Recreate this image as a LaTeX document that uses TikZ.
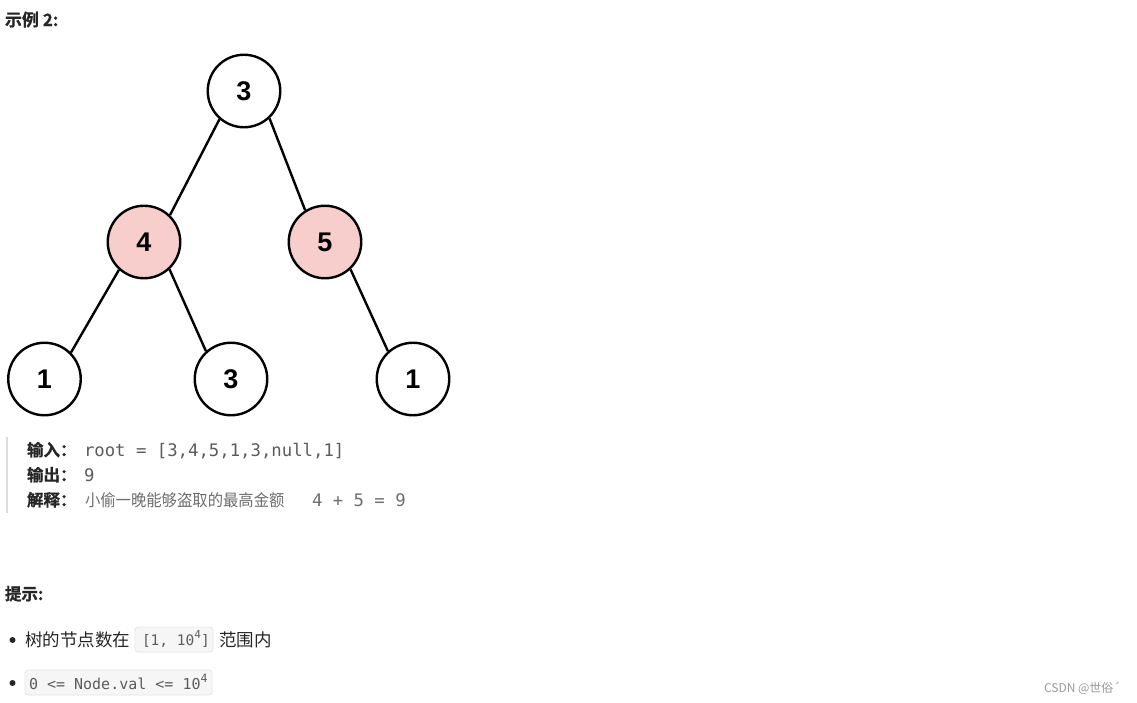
\documentclass[tikz,border=0pt]{standalone}
\usepackage{fontspec}
\usepackage{graphicx}
\setmainfont{Noto Sans CJK SC}
\newfontfamily\cjkb[FakeBold=0.8]{Noto Sans CJK SC Bold}
\newfontfamily\codef{DejaVu Sans Mono}
\newfontfamily\numf{Liberation Sans}
\definecolor{pinkfill}{HTML}{F8CECC}
\definecolor{codegray}{HTML}{5C5C5C}
\definecolor{expgray}{HTML}{6E6E6E}
\definecolor{labelblk}{HTML}{262626}
\definecolor{boxfill}{HTML}{F6F6F7}
\definecolor{boxline}{HTML}{E6E6E8}
\definecolor{barcol}{HTML}{DCDCDC}
\tikzset{
  tnode/.style={circle,draw=black,line width=2.4pt,fill=white,minimum size=72.5pt,inner sep=0pt,font=\numf\bfseries\fontsize{27}{27}\selectfont},
  hl/.style={fill=pinkfill},
  edge/.style={line width=2.4pt,black},
  txt/.style={anchor=base west,inner sep=0pt,outer sep=0pt},
  codebox/.style={draw=boxline,fill=boxfill,rounded corners=3pt,line width=0.8pt},
}
\begin{document}
\begin{tikzpicture}[x=1pt,y=-1pt]
\useasboundingbox (0,0) rectangle (1137,702);
\fill[white] (0,0) rectangle (1137,702);
% title
\node[txt,text=labelblk] (title) at (5,26) {\cjkb\fontsize{17}{17}\selectfont 示例 2:};
% tree
\begin{scope}
\clip (0,40) rectangle (451,430);
\node[tnode] (r) at (244,91) {3};
\node[tnode,hl] (a) at (144,242) {4};
\node[tnode,hl] (b) at (325,242) {5};
\node[tnode] (c) at (44.5,379) {1};
\node[tnode] (d) at (231,379) {3};
\node[tnode] (e) at (413,379) {1};
\draw[edge] (r.229) -- (a.46);
\draw[edge] (r.313) -- (b.122);
\draw[edge] (a.228) -- (c.45);
\draw[edge] (a.313) -- (d.132);
\draw[edge] (b.313) -- (e.132);
\end{scope}
% quote block
\fill[barcol] (6,437) rectangle (8,513);
\node[txt,text=labelblk] (l1) at (27,456) {\cjkb\fontsize{16.5}{16.5}\selectfont 输入：};
\node[txt,text=codegray] (v1) at (84,456) {\codef\fontsize{17.3}{17.3}\selectfont root = [3,4,5,1,3,null,1]};
\node[txt,text=labelblk] (l2) at (27,481) {\cjkb\fontsize{16.5}{16.5}\selectfont 输出：};
\node[txt,text=codegray] (v2) at (84,481) {\codef\fontsize{17.3}{17.3}\selectfont 9};
\node[txt,text=labelblk] (l3) at (27,506) {\cjkb\fontsize{16.5}{16.5}\selectfont 解释：};
\node[txt,text=expgray] (v3) at (85,506) {\scalebox{0.93}[1]{\fontsize{16.5}{16.5}\selectfont 小偷一晚能够盗取的最高金额}};
\node[txt,text=expgray] (v3b) at (312,506) {\codef\fontsize{17.3}{17.3}\selectfont 4 + 5 = 9};
% hints
\node[txt,text=labelblk] (hint) at (5,600) {\cjkb\fontsize{16.5}{16.5}\selectfont 提示:};
\fill[labelblk] (12.5,640) circle (3pt);
\node[txt,text=labelblk] (h1) at (25,646) {\fontsize{17.5}{17.5}\selectfont 树的节点数在};
\draw[codebox] (135,627) rectangle (213,652);
\node[txt,text=codegray] (c1) at (142,645) {\codef\fontsize{14.5}{14.5}\selectfont [1, 10\raisebox{0.45em}{\fontsize{11}{11}\selectfont 4}]};
\node[txt,text=labelblk] (h1b) at (219,646) {\fontsize{17.5}{17.5}\selectfont 范围内};
\fill[labelblk] (12.5,683) circle (3pt);
\draw[codebox] (25,670) rectangle (212,695);
\node[txt,text=codegray] (c2) at (29,689) {\codef\fontsize{15}{15}\selectfont 0 <= Node.val <= 10\raisebox{0.45em}{\fontsize{11.5}{11.5}\selectfont 4}};
% watermark
\node[txt,text=gray!80] (wm) at (1044,692) {\fontsize{12}{12}\selectfont CSDN @世俗´};
\end{tikzpicture}
\end{document}
